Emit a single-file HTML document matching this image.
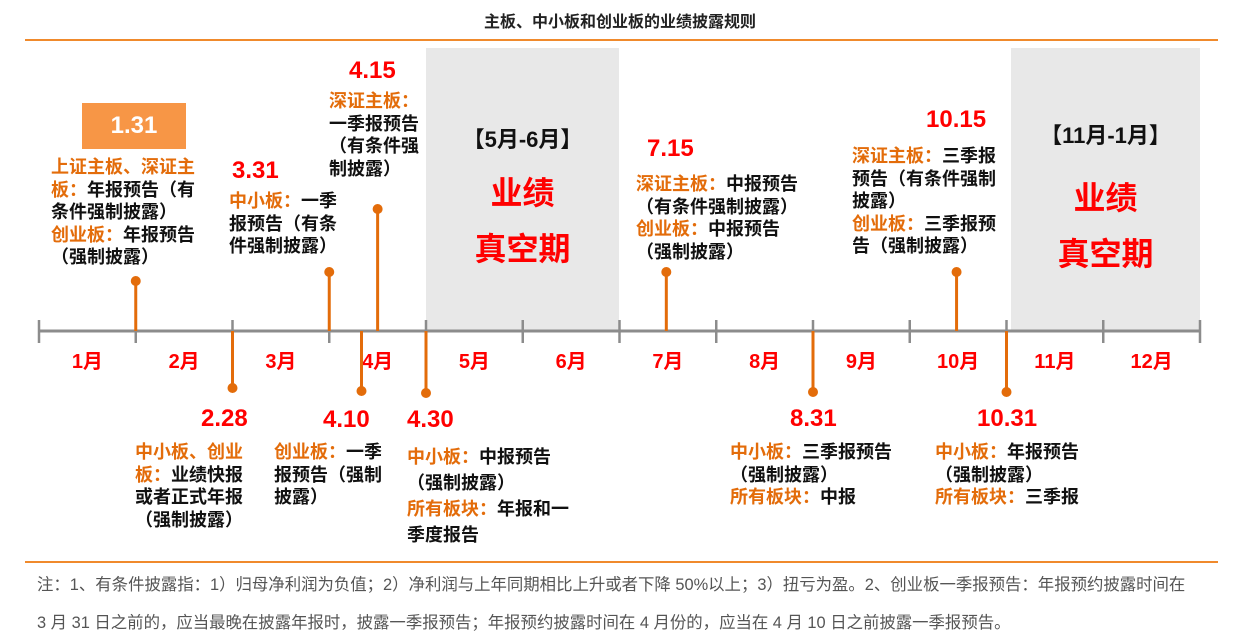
<!DOCTYPE html>
<html><head><meta charset="utf-8">
<style>
body{margin:0;width:1240px;height:642px;background:#fff;position:relative;overflow:hidden;font-family:"Liberation Sans","Noto Sans CJK SC",sans-serif;}
.a{position:absolute;white-space:nowrap;}
.t{font-size:18px;font-weight:bold;line-height:22.5px;color:#111;}
.o{color:#e36c0a;}
.d{font-size:24px;font-weight:bold;color:#ff0000;}
.gap{font-size:32px;font-weight:bold;color:#ff0000;text-align:center;}
.br{font-size:22px;font-weight:bold;color:#111;text-align:center;}
.fn{font-size:16.4px;color:#555;}
</style></head><body>
<div class="a" style="left:0;width:1240px;text-align:center;top:8px;font-size:16px;font-weight:bold;color:#222;">主板、中小板和创业板的业绩披露规则</div>
<div class="a" style="left:25px;top:39px;width:1193px;height:2px;background:#f08a2c;"></div>
<div class="a" style="left:426px;top:48px;width:193px;height:283px;background:#e8e8e8;"></div>
<div class="a" style="left:1011px;top:48px;width:189px;height:283px;background:#e8e8e8;"></div>
<div class="a br" style="left:426px;width:193px;top:122px;">【5月-6月】</div>
<div class="a gap" style="left:426px;width:193px;top:168px;">业绩</div>
<div class="a gap" style="left:426px;width:193px;top:224px;">真空期</div>
<div class="a br" style="left:1011px;width:189px;top:118px;">【11月-1月】</div>
<div class="a gap" style="left:1011px;width:189px;top:173px;">业绩</div>
<div class="a gap" style="left:1011px;width:189px;top:229px;">真空期</div>

<svg id="tl" class="a" style="left:0;top:0" width="1240" height="642"></svg>

<div class="a" style="left:82px;top:103px;width:104px;height:46px;background:#f79646;color:#fff;font-size:24px;font-weight:bold;text-align:center;line-height:46px;">1.31</div>
<div class="a t" style="left:51px;top:156px;"><span class="o">上证主板、深证主</span><br><span class="o">板：</span>年报预告（有<br>条件强制披露）<br><span class="o">创业板：</span>年报预告<br>（强制披露）</div>
<div class="a d" style="left:232px;top:157px;">3.31</div>
<div class="a t" style="left:229px;top:190px;"><span class="o">中小板：</span>一季<br>报预告（有条<br>件强制披露）</div>
<div class="a d" style="left:349px;top:57px;">4.15</div>
<div class="a t" style="left:329px;top:90px;"><span class="o">深证主板：</span><br>一季报预告<br>（有条件强<br>制披露）</div>
<div class="a d" style="left:647px;top:135px;">7.15</div>
<div class="a t" style="left:636px;top:173px;"><span class="o">深证主板：</span>中报预告<br>（有条件强制披露）<br><span class="o">创业板：</span>中报预告<br>（强制披露）</div>
<div class="a d" style="left:926px;top:106px;">10.15</div>
<div class="a t" style="left:852px;top:145px;"><span class="o">深证主板：</span>三季报<br>预告（有条件强制<br>披露）<br><span class="o">创业板：</span>三季报预<br>告（强制披露）</div>

<div class="a d" style="left:201px;top:405px;">2.28</div>
<div class="a t" style="left:135px;top:441px;"><span class="o">中小板、创业</span><br><span class="o">板：</span>业绩快报<br>或者正式年报<br>（强制披露）</div>
<div class="a d" style="left:323px;top:406px;">4.10</div>
<div class="a t" style="left:274px;top:441px;"><span class="o">创业板：</span>一季<br>报预告（强制<br>披露）</div>
<div class="a d" style="left:407px;top:406px;">4.30</div>
<div class="a t" style="left:407px;top:444px;line-height:26px;"><span class="o">中小板：</span>中报预告<br>（强制披露）<br><span class="o">所有板块：</span>年报和一<br>季度报告</div>
<div class="a d" style="left:790px;top:405px;">8.31</div>
<div class="a t" style="left:730px;top:441px;"><span class="o">中小板：</span>三季报预告<br>（强制披露）<br><span class="o">所有板块：</span>中报</div>
<div class="a d" style="left:977px;top:405px;">10.31</div>
<div class="a t" style="left:935px;top:441px;"><span class="o">中小板：</span>年报预告<br>（强制披露）<br><span class="o">所有板块：</span>三季报</div>

<div class="a" style="left:25px;top:561px;width:1193px;height:2px;background:#f08a2c;"></div>
<div class="a fn" style="left:37px;top:571px;">注：1、有条件披露指：1）归母净利润为负值；2）净利润与上年同期相比上升或者下降 50%以上；3）扭亏为盈。2、创业板一季报预告：年报预约披露时间在</div>
<div class="a fn" style="left:37px;top:609px;">3 月 31 日之前的，应当最晚在披露年报时，披露一季报预告；年报预约披露时间在 4 月份的，应当在 4 月 10 日之前披露一季报预告。</div>

<script>
const months=["1月","2月","3月","4月","5月","6月","7月","8月","9月","10月","11月","12月"];
const eventMonth=[1,2,3,4,4,4,7,8,10,10];
const eventDay=[31,28,31,10,15,30,15,31,15,31];
const eventDir=["up","down","up","down","up","down","up","down","up","down"];
const eventLen=[50,57,59,60,122,62,59,61,59,61];
const mDays=[31,28,31,30,31,30,31,31,30,31,30,31];
const x0=39,mw=96.75,axisY=331;
function xScale(m,d){return x0+((m-1)+d/mDays[m-1])*mw;}
const svg=document.getElementById('tl');const NS="http://www.w3.org/2000/svg";
function mk(t,a){const e=document.createElementNS(NS,t);for(const k in a)e.setAttribute(k,a[k]);svg.appendChild(e);return e;}
let ax=mk('line',{x1:x0,y1:axisY,x2:x0+12*mw,y2:axisY,stroke:'#8c8c8c','stroke-width':3});

for(let i=0;i<=12;i++){const x=x0+i*mw;
 const tk=mk('line',{x1:x,y1:axisY-11,x2:x,y2:axisY+12,stroke:'#8c8c8c','stroke-width':2.5});
 }
months.forEach((m,i)=>{const tx=mk('text',{x:x0+(i+0.5)*mw,y:368,'text-anchor':'middle','font-size':20,'font-weight':'bold',fill:'#ff0000','font-family':'"Liberation Sans","Noto Sans CJK SC",sans-serif'});tx.textContent=m;
 });
eventMonth.forEach((m,i)=>{const x=xScale(m,eventDay[i]);const up=eventDir[i]==="up";
 const y2=up?axisY-eventLen[i]:axisY+eventLen[i];
 const l=mk('line',{x1:x,y1:axisY,x2:x,y2:y2,stroke:'#e36c0a','stroke-width':3});
 
 const c=mk('circle',{cx:x,cy:y2,r:5,fill:'#e36c0a'});
 });
</script>
</body></html>
